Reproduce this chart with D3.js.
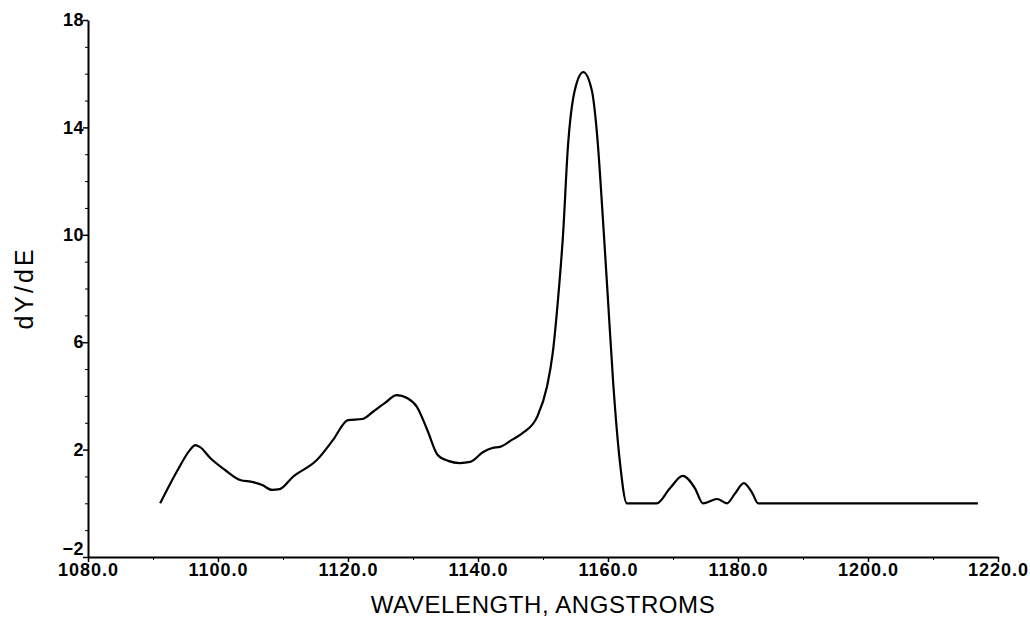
<!DOCTYPE html>
<html>
<head>
<meta charset="utf-8">
<script src="https://cdn.jsdelivr.net/npm/d3@7"></script>
<style>
  body { margin: 0; background: #fff; }
  svg { display: block; }
  .tick text { font-family: "Liberation Sans", Arial, sans-serif; font-weight: bold; }
</style>
</head>
<body>
<div id="chart"></div>
<script>
// wavelength (A) and dY/dE
const wavelength = [
  1091.1, 1093.8, 1095.7, 1096.5, 1097.2, 1098.8, 1101.1, 1103.4, 1105.4, 1106.8,
  1108.3, 1109.5, 1111.5, 1115.2, 1117.7, 1120.0, 1122.2, 1123.8, 1125.7, 1127.5,
  1129.1, 1130.6, 1132.2, 1133.8, 1135.4, 1137.2, 1138.8, 1140.8, 1142.2, 1143.4,
  1145.2, 1146.9, 1149.1, 1150.6, 1151.5, 1152.3, 1153.1, 1153.8, 1154.9, 1156.2,
  1157.5, 1158.3, 1159.2, 1160.0, 1160.8, 1161.8, 1162.9, 1167.5, 1169.5, 1171.5,
  1173.4, 1174.6, 1176.8, 1178.3, 1179.5, 1180.9, 1182.2, 1183.1, 1216.9
];
const dYdE = [
  0.0, 1.24, 1.99, 2.17, 2.10, 1.69, 1.24, 0.87, 0.79, 0.68,
  0.50, 0.53, 0.98, 1.61, 2.36, 3.10, 3.14, 3.40, 3.74, 4.03,
  3.92, 3.59, 2.73, 1.80, 1.58, 1.50, 1.54, 1.91, 2.06, 2.10,
  2.36, 2.62, 3.22, 4.33, 5.60, 7.57, 10.07, 13.16, 15.39, 16.06,
  15.39, 13.79, 10.66, 7.57, 4.48, 1.61, 0.0, 0.0, 0.55, 1.02,
  0.55, 0.0, 0.16, 0.0, 0.35, 0.75, 0.38, 0.0, 0.0
];

const xTicks = [1080, 1100, 1120, 1140, 1160, 1180, 1200, 1220];
const yTicks = [-2, 2, 6, 10, 14, 18];

const width = 1030, height = 620;
const margin = { top: 20, right: 32, bottom: 63, left: 88 };

const svg = d3.select("#chart").append("svg")
  .attr("width", width)
  .attr("height", height);

const x = d3.scaleLinear().domain([1080, 1220]).range([margin.left, width - margin.right]);
const y = d3.scaleLinear().domain([-2, 18]).range([height - margin.bottom, margin.top]);

// minor ticks
svg.append("g")
  .attr("transform", `translate(0,${y(-2)})`)
  .call(d3.axisBottom(x).tickValues(d3.range(1090, 1220, 20)).tickSize(3).tickFormat(""))
  .call((g) => g.select(".domain").remove());

svg.append("g")
  .attr("transform", `translate(${x(1080)},0)`)
  .call(d3.axisLeft(y).tickValues(d3.range(-2, 19, 1).filter((v) => !yTicks.includes(v))).tickSize(3).tickFormat(""))
  .call((g) => g.select(".domain").remove());

// major axes
const xAxis = svg.append("g")
  .attr("transform", `translate(0,${y(-2)})`)
  .call(d3.axisBottom(x).tickValues(xTicks).tickSize(5).tickSizeOuter(0).tickFormat(d3.format(".1f")));
xAxis.select(".domain").attr("stroke-width", 2);
xAxis.selectAll(".tick line").attr("stroke-width", 1.5);
xAxis.selectAll(".tick text")
  .attr("font-size", 18)
  .attr("letter-spacing", "1px")
  .attr("dy", "0.6em")
  .attr("fill", "#000");

const yAxis = svg.append("g")
  .attr("transform", `translate(${x(1080)},0)`)
  .call(d3.axisLeft(y).tickValues(yTicks).tickSize(5).tickSizeOuter(0)
    .tickFormat((d) => (d < 0 ? "\u2212" + Math.abs(d) : d)));
yAxis.select(".domain").attr("stroke-width", 2);
yAxis.selectAll(".tick line").attr("stroke-width", 1.5);
yAxis.selectAll(".tick text")
  .attr("font-size", 18)
  .attr("letter-spacing", "0.5px")
  .attr("x", -4)
  .attr("fill", "#000");
// the -2 label sits just above the 1080.0 label, as in the original
yAxis.selectAll(".tick text").filter((d) => d === -2).attr("dy", "-0.12em");

// curve
const data = wavelength.map((w, i) => ({ w, v: dYdE[i] }));
svg.append("path")
  .datum(data)
  .attr("fill", "none")
  .attr("stroke", "#000")
  .attr("stroke-width", 2.2)
  .attr("stroke-linejoin", "round")
  .attr("d", d3.line().x((d) => x(d.w)).y((d) => y(d.v)).curve(d3.curveMonotoneX));

// axis titles
svg.append("text")
  .attr("x", (x(1080) + x(1220)) / 2)
  .attr("y", 613)
  .attr("text-anchor", "middle")
  .attr("font-family", "'Liberation Sans', Arial, sans-serif")
  .attr("font-size", 24)
  .attr("letter-spacing", "0.6px")
  .text("WAVELENGTH, ANGSTROMS");

svg.append("text")
  .attr("transform", "translate(33,288) rotate(-90)")
  .attr("text-anchor", "middle")
  .attr("font-family", "'Liberation Sans', Arial, sans-serif")
  .attr("font-size", 25)
  .attr("letter-spacing", "3px")
  .text("dY/dE");
</script>
</body>
</html>
